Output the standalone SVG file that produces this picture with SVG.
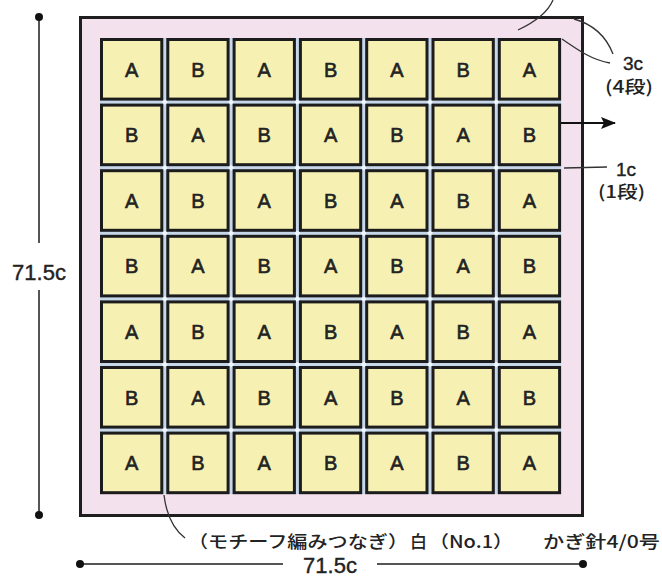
<svg xmlns="http://www.w3.org/2000/svg" width="662" height="577" viewBox="0 0 662 577">
<defs>
<style>
.cell rect{fill:#f6f1b3;stroke:#1c1c1c;stroke-width:3}
.cell text{font-family:"Liberation Sans",Arial,sans-serif;font-size:20px;fill:#222;stroke:#222;stroke-width:0.6;text-anchor:middle}
.lbl{font-family:"Liberation Sans","Noto Sans CJK JP",sans-serif;fill:#222;stroke:#222;stroke-width:0.4}
.jp{font-family:"Noto Sans CJK JP","Liberation Sans",sans-serif;fill:#222;font-size:17px;font-weight:500}
.dim{stroke:#555;stroke-width:2;fill:none}
.lead{stroke:#333;stroke-width:1.3;fill:none}
.dot{fill:#111}
.spark{fill:#eef6ff}
</style>
<marker id="arr" markerWidth="15" markerHeight="12" refX="14" refY="6" orient="auto" markerUnits="userSpaceOnUse" viewBox="0 0 15 12">
<path d="M0,0 L15,6 L0,12 L3,6 Z" fill="#111"/>
</marker>
</defs>
<rect width="662" height="577" fill="#fff"/>
<g id="frame">
<rect x="80.5" y="17.5" width="502" height="498" fill="#f3e1ee" stroke="#1e1e1e" stroke-width="3"/>
<rect x="100" y="38" width="461" height="456" fill="#c6d7ea"/>
</g>
<g id="sparks">
<circle class="spark" cx="164.8" cy="102.1" r="2.5"/><circle class="spark" cx="231.1" cy="102.1" r="2.5"/><circle class="spark" cx="297.4" cy="102.1" r="2.5"/><circle class="spark" cx="363.7" cy="102.1" r="2.5"/><circle class="spark" cx="430" cy="102.1" r="2.5"/><circle class="spark" cx="496.3" cy="102.1" r="2.5"/>
<circle class="spark" cx="164.8" cy="167.7" r="2.5"/><circle class="spark" cx="231.1" cy="167.7" r="2.5"/><circle class="spark" cx="297.4" cy="167.7" r="2.5"/><circle class="spark" cx="363.7" cy="167.7" r="2.5"/><circle class="spark" cx="430" cy="167.7" r="2.5"/><circle class="spark" cx="496.3" cy="167.7" r="2.5"/>
<circle class="spark" cx="164.8" cy="233.3" r="2.5"/><circle class="spark" cx="231.1" cy="233.3" r="2.5"/><circle class="spark" cx="297.4" cy="233.3" r="2.5"/><circle class="spark" cx="363.7" cy="233.3" r="2.5"/><circle class="spark" cx="430" cy="233.3" r="2.5"/><circle class="spark" cx="496.3" cy="233.3" r="2.5"/>
<circle class="spark" cx="164.8" cy="298.9" r="2.5"/><circle class="spark" cx="231.1" cy="298.9" r="2.5"/><circle class="spark" cx="297.4" cy="298.9" r="2.5"/><circle class="spark" cx="363.7" cy="298.9" r="2.5"/><circle class="spark" cx="430" cy="298.9" r="2.5"/><circle class="spark" cx="496.3" cy="298.9" r="2.5"/>
<circle class="spark" cx="164.8" cy="364.5" r="2.5"/><circle class="spark" cx="231.1" cy="364.5" r="2.5"/><circle class="spark" cx="297.4" cy="364.5" r="2.5"/><circle class="spark" cx="363.7" cy="364.5" r="2.5"/><circle class="spark" cx="430" cy="364.5" r="2.5"/><circle class="spark" cx="496.3" cy="364.5" r="2.5"/>
<circle class="spark" cx="164.8" cy="430.1" r="2.5"/><circle class="spark" cx="231.1" cy="430.1" r="2.5"/><circle class="spark" cx="297.4" cy="430.1" r="2.5"/><circle class="spark" cx="363.7" cy="430.1" r="2.5"/><circle class="spark" cx="430" cy="430.1" r="2.5"/><circle class="spark" cx="496.3" cy="430.1" r="2.5"/>
</g>
<g id="r0">
<g id="c0-0" class="cell"><rect x="101.5" y="39.5" width="60.3" height="59.6"/><text x="131.6" y="76.5">A</text></g>
<g id="c0-1" class="cell"><rect x="167.8" y="39.5" width="60.3" height="59.6"/><text x="197.9" y="76.5">B</text></g>
<g id="c0-2" class="cell"><rect x="234.1" y="39.5" width="60.3" height="59.6"/><text x="264.2" y="76.5">A</text></g>
<g id="c0-3" class="cell"><rect x="300.4" y="39.5" width="60.3" height="59.6"/><text x="330.6" y="76.5">B</text></g>
<g id="c0-4" class="cell"><rect x="366.7" y="39.5" width="60.3" height="59.6"/><text x="396.9" y="76.5">A</text></g>
<g id="c0-5" class="cell"><rect x="433.0" y="39.5" width="60.3" height="59.6"/><text x="463.2" y="76.5">B</text></g>
<g id="c0-6" class="cell"><rect x="499.3" y="39.5" width="60.3" height="59.6"/><text x="529.5" y="76.5">A</text></g>
</g>
<g id="r1">
<g id="c1-0" class="cell"><rect x="101.5" y="105.1" width="60.3" height="59.6"/><text x="131.6" y="142.1">B</text></g>
<g id="c1-1" class="cell"><rect x="167.8" y="105.1" width="60.3" height="59.6"/><text x="197.9" y="142.1">A</text></g>
<g id="c1-2" class="cell"><rect x="234.1" y="105.1" width="60.3" height="59.6"/><text x="264.2" y="142.1">B</text></g>
<g id="c1-3" class="cell"><rect x="300.4" y="105.1" width="60.3" height="59.6"/><text x="330.6" y="142.1">A</text></g>
<g id="c1-4" class="cell"><rect x="366.7" y="105.1" width="60.3" height="59.6"/><text x="396.9" y="142.1">B</text></g>
<g id="c1-5" class="cell"><rect x="433.0" y="105.1" width="60.3" height="59.6"/><text x="463.2" y="142.1">A</text></g>
<g id="c1-6" class="cell"><rect x="499.3" y="105.1" width="60.3" height="59.6"/><text x="529.5" y="142.1">B</text></g>
</g>
<g id="r2">
<g id="c2-0" class="cell"><rect x="101.5" y="170.7" width="60.3" height="59.6"/><text x="131.6" y="207.7">A</text></g>
<g id="c2-1" class="cell"><rect x="167.8" y="170.7" width="60.3" height="59.6"/><text x="197.9" y="207.7">B</text></g>
<g id="c2-2" class="cell"><rect x="234.1" y="170.7" width="60.3" height="59.6"/><text x="264.2" y="207.7">A</text></g>
<g id="c2-3" class="cell"><rect x="300.4" y="170.7" width="60.3" height="59.6"/><text x="330.6" y="207.7">B</text></g>
<g id="c2-4" class="cell"><rect x="366.7" y="170.7" width="60.3" height="59.6"/><text x="396.9" y="207.7">A</text></g>
<g id="c2-5" class="cell"><rect x="433.0" y="170.7" width="60.3" height="59.6"/><text x="463.2" y="207.7">B</text></g>
<g id="c2-6" class="cell"><rect x="499.3" y="170.7" width="60.3" height="59.6"/><text x="529.5" y="207.7">A</text></g>
</g>
<g id="r3">
<g id="c3-0" class="cell"><rect x="101.5" y="236.3" width="60.3" height="59.6"/><text x="131.6" y="273.3">B</text></g>
<g id="c3-1" class="cell"><rect x="167.8" y="236.3" width="60.3" height="59.6"/><text x="197.9" y="273.3">A</text></g>
<g id="c3-2" class="cell"><rect x="234.1" y="236.3" width="60.3" height="59.6"/><text x="264.2" y="273.3">B</text></g>
<g id="c3-3" class="cell"><rect x="300.4" y="236.3" width="60.3" height="59.6"/><text x="330.6" y="273.3">A</text></g>
<g id="c3-4" class="cell"><rect x="366.7" y="236.3" width="60.3" height="59.6"/><text x="396.9" y="273.3">B</text></g>
<g id="c3-5" class="cell"><rect x="433.0" y="236.3" width="60.3" height="59.6"/><text x="463.2" y="273.3">A</text></g>
<g id="c3-6" class="cell"><rect x="499.3" y="236.3" width="60.3" height="59.6"/><text x="529.5" y="273.3">B</text></g>
</g>
<g id="r4">
<g id="c4-0" class="cell"><rect x="101.5" y="301.9" width="60.3" height="59.6"/><text x="131.6" y="338.9">A</text></g>
<g id="c4-1" class="cell"><rect x="167.8" y="301.9" width="60.3" height="59.6"/><text x="197.9" y="338.9">B</text></g>
<g id="c4-2" class="cell"><rect x="234.1" y="301.9" width="60.3" height="59.6"/><text x="264.2" y="338.9">A</text></g>
<g id="c4-3" class="cell"><rect x="300.4" y="301.9" width="60.3" height="59.6"/><text x="330.6" y="338.9">B</text></g>
<g id="c4-4" class="cell"><rect x="366.7" y="301.9" width="60.3" height="59.6"/><text x="396.9" y="338.9">A</text></g>
<g id="c4-5" class="cell"><rect x="433.0" y="301.9" width="60.3" height="59.6"/><text x="463.2" y="338.9">B</text></g>
<g id="c4-6" class="cell"><rect x="499.3" y="301.9" width="60.3" height="59.6"/><text x="529.5" y="338.9">A</text></g>
</g>
<g id="r5">
<g id="c5-0" class="cell"><rect x="101.5" y="367.5" width="60.3" height="59.6"/><text x="131.6" y="404.5">B</text></g>
<g id="c5-1" class="cell"><rect x="167.8" y="367.5" width="60.3" height="59.6"/><text x="197.9" y="404.5">A</text></g>
<g id="c5-2" class="cell"><rect x="234.1" y="367.5" width="60.3" height="59.6"/><text x="264.2" y="404.5">B</text></g>
<g id="c5-3" class="cell"><rect x="300.4" y="367.5" width="60.3" height="59.6"/><text x="330.6" y="404.5">A</text></g>
<g id="c5-4" class="cell"><rect x="366.7" y="367.5" width="60.3" height="59.6"/><text x="396.9" y="404.5">B</text></g>
<g id="c5-5" class="cell"><rect x="433.0" y="367.5" width="60.3" height="59.6"/><text x="463.2" y="404.5">A</text></g>
<g id="c5-6" class="cell"><rect x="499.3" y="367.5" width="60.3" height="59.6"/><text x="529.5" y="404.5">B</text></g>
</g>
<g id="r6">
<g id="c6-0" class="cell"><rect x="101.5" y="433.1" width="60.3" height="59.6"/><text x="131.6" y="470.1">A</text></g>
<g id="c6-1" class="cell"><rect x="167.8" y="433.1" width="60.3" height="59.6"/><text x="197.9" y="470.1">B</text></g>
<g id="c6-2" class="cell"><rect x="234.1" y="433.1" width="60.3" height="59.6"/><text x="264.2" y="470.1">A</text></g>
<g id="c6-3" class="cell"><rect x="300.4" y="433.1" width="60.3" height="59.6"/><text x="330.6" y="470.1">B</text></g>
<g id="c6-4" class="cell"><rect x="366.7" y="433.1" width="60.3" height="59.6"/><text x="396.9" y="470.1">A</text></g>
<g id="c6-5" class="cell"><rect x="433.0" y="433.1" width="60.3" height="59.6"/><text x="463.2" y="470.1">B</text></g>
<g id="c6-6" class="cell"><rect x="499.3" y="433.1" width="60.3" height="59.6"/><text x="529.5" y="470.1">A</text></g>
</g>
<g id="connectors">
<line class="dim" x1="39" y1="17" x2="39" y2="243"/>
<line class="dim" x1="39" y1="290" x2="39" y2="515"/>
<circle class="dot" cx="39" cy="17" r="4"/>
<circle class="dot" cx="39" cy="515" r="4"/>
<line class="dim" x1="80" y1="564" x2="283" y2="564"/>
<line class="dim" x1="377" y1="564" x2="583" y2="564"/>
<circle class="dot" cx="80" cy="564" r="4"/>
<circle class="dot" cx="583" cy="564" r="4"/>
<path class="lead" d="M518,30 C535,22 548,12 553,0"/>
<path class="lead" d="M574,19 C592,24 606,36 613,54"/>
<path class="lead" d="M562,39 C578,50 592,60 610,63"/>
<line class="lead" x1="564" y1="168" x2="607" y2="167"/>
<line x1="561" y1="123" x2="615" y2="123" stroke="#111" stroke-width="2" marker-end="url(#arr)"/>
<path class="lead" d="M164,495 C166,512 172,528 185,538"/>
</g>
<g id="labels">
<text class="lbl" x="39" y="280" font-size="22" text-anchor="middle">71.5c</text>
<text class="lbl" x="330" y="573" font-size="22" text-anchor="middle">71.5c</text>
<text class="lbl" x="643" y="70" font-size="19" text-anchor="end">3c</text>
<text class="jp" x="605" y="93" textLength="48" lengthAdjust="spacingAndGlyphs">(4段)</text>
<text class="lbl" x="636" y="176" font-size="19" text-anchor="end">1c</text>
<text class="jp" x="598" y="198" textLength="47" lengthAdjust="spacingAndGlyphs">(1段)</text>
<text class="jp" x="188" y="548" textLength="220" lengthAdjust="spacingAndGlyphs">（モチーフ編みつなぎ）</text>
<text class="jp" x="410" y="548">白</text>
<text class="jp" x="429" y="548" textLength="84" lengthAdjust="spacingAndGlyphs">（No.1）</text>
<text class="jp" x="543" y="548" textLength="117" lengthAdjust="spacingAndGlyphs">かぎ針4/0号</text>
</g>
</svg>
